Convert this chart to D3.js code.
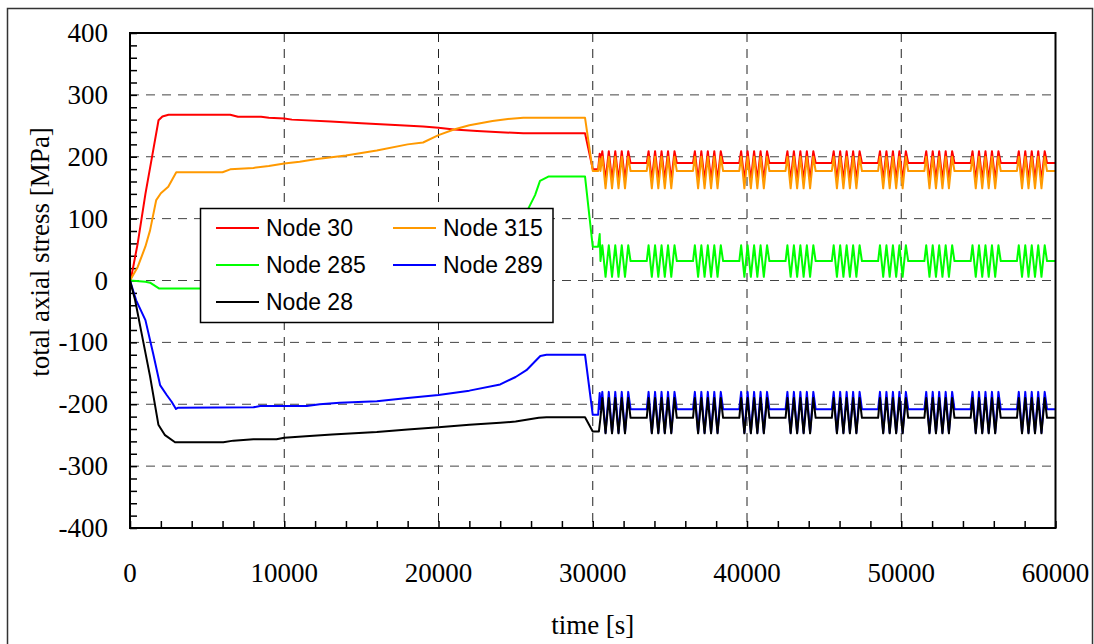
<!DOCTYPE html>
<html>
<head>
<meta charset="utf-8">
<script src="https://cdn.jsdelivr.net/npm/d3@7"></script>
<style>
  body { margin: 0; background: white; }
</style>
</head>
<body>
<div id="chart"></div>
<script>
// time [s] ticks and stress [MPa] ticks
const xTicks = [0, 10000, 20000, 30000, 40000, 50000, 60000];
const yTicks = [-400, -300, -200, -100, 0, 100, 200, 300, 400];

const seriesNames = ["Node 30", "Node 315", "Node 285", "Node 289", "Node 28"];
const seriesColors = ["#ff0000", "#ff9900", "#00ff00", "#0000ff", "#000000"];

// loading phase, [time, stress]
const node30Ramp = [[0, -5], [500, 60], [1000, 140], [1500, 210], [1850, 259], [2100, 265], [2500, 268], [6500, 268], [7000, 264.6], [8500, 264.6], [9000, 263], [10000, 262], [10500, 260], [13000, 257], [15000, 254], [17500, 251], [19000, 249], [20000, 247], [21000, 244], [22500, 241.5], [24000, 239.5], [25500, 238], [29500, 238], [30000, 180], [30350, 180], [30450, 205]];
const node315Ramp = [[0, 0], [500, 22], [1000, 55], [1300, 81], [1700, 130], [2000, 141], [2480, 151.5], [3000, 175], [6000, 175], [6500, 179.6], [8000, 182], [9000, 185], [10000, 189], [11000, 192], [12000, 196], [14000, 202], [16000, 210], [18000, 220], [19000, 223], [20000, 235], [21000, 244], [22000, 251], [23500, 257.7], [24500, 261], [25500, 263], [29500, 263], [30000, 177], [30350, 177], [30450, 197]];
const node285Ramp = [[0, 0], [1000, -2], [1300, -3.5], [1900, -13], [23500, -13], [24500, -5], [25300, 60], [25830, 116.6], [26260, 138], [26580, 161], [27120, 168], [29500, 168], [30000, 54.6], [30350, 54.6], [30450, 75]];
const node289Ramp = [[0, 0], [400, -32], [1000, -64], [1500, -118], [1950, -169], [2380, -185], [2700, -196], [2980, -207.6], [3130, -205.5], [8000, -205], [8440, -203], [11460, -203], [12300, -200], [13600, -197.5], [16000, -195], [18000, -190], [20000, -185], [22000, -178], [24000, -168], [25000, -156], [25700, -145], [26600, -122], [27000, -120], [29500, -120], [30000, -217], [30350, -217], [30450, -182]];
const node28Ramp = [[0, 0], [330, -31.5], [750, -85], [1300, -155], [1840, -233], [2270, -250], [2920, -261.5], [6050, -261.5], [6700, -258.8], [8000, -256.5], [9500, -256.5], [10000, -254], [11400, -251.7], [13100, -249], [16000, -245], [18000, -241], [20000, -237], [22000, -233], [24000, -230], [25000, -228], [26500, -222], [27000, -221], [29500, -221], [30000, -244], [30400, -244]];

// cyclic phase: block start times and the shape of one block
const blockStarts = [30500, 33500, 36500, 39500, 42500, 45500, 48500, 51500, 54500, 57500];
const blockOffsets = [0, 120, 330, 540, 750, 960, 1170, 1380, 1590, 1800, 1950];
const node30Block = [190, 209, 162, 209, 162, 209, 162, 209, 162, 209, 190];
const node315Block = [177, 200, 149, 200, 149, 200, 149, 200, 149, 200, 177];
const node285Block = [31.5, 57, 6, 57, 6, 57, 6, 57, 6, 57, 31.5];
const node289Block = [-208, -180, -246, -180, -246, -180, -246, -180, -246, -180, -208];
const node28Block = [-222, -190, -247, -190, -247, -190, -247, -190, -247, -190, -222];

const ramps = [node30Ramp, node315Ramp, node285Ramp, node289Ramp, node28Ramp];
const blocks = [node30Block, node315Block, node285Block, node289Block, node28Block];

const serif = "'Liberation Serif', 'Times New Roman', serif";
const sans = "'Liberation Sans', Arial, sans-serif";

function renderStressChart () {
    const wSvg = 1094;
    const hSvg = 644;
    const left = 130;
    const right = 1055.5;
    const top = 33;
    const bottom = 528;

    let xScale = d3.scaleLinear([0, 60000], [left, right]);
    let yScale = d3.scaleLinear([-400, 400], [bottom, top]);

    let svg = d3.select("#chart")
        .append("svg")
        .attr("width", wSvg)
        .attr("height", hSvg);

    // outer chart frame
    svg.append("rect")
        .attr("x", 7.5)
        .attr("y", 8.5)
        .attr("width", 1085)
        .attr("height", 645)
        .attr("fill", "white")
        .attr("stroke", "#333")
        .attr("stroke-width", 1.5);

    // dashed grid
    svg.append("g")
        .selectAll("line")
        .data(xTicks.filter(t => t > 0 && t < 60000))
        .enter()
        .append("line")
        .attr("x1", d => xScale(d))
        .attr("x2", d => xScale(d))
        .attr("y1", top)
        .attr("y2", bottom)
        .attr("stroke", "#222")
        .attr("stroke-dasharray", "9,7");

    svg.append("g")
        .selectAll("line")
        .data(yTicks.filter(t => t > -400 && t < 400))
        .enter()
        .append("line")
        .attr("x1", left)
        .attr("x2", right)
        .attr("y1", d => yScale(d))
        .attr("y2", d => yScale(d))
        .attr("stroke", "#444")
        .attr("stroke-dasharray", "9,7");

    // minor ticks pointing inwards
    let xAxis = d3.axisTop(xScale).ticks(30).tickSize(7).tickFormat("");
    svg.append("g")
        .attr("transform", `translate(0, ${bottom})`)
        .call(xAxis)
        .call(g => g.selectAll(".tick line").attr("stroke-width", 1.5));

    let yAxis = d3.axisRight(yScale).ticks(40).tickSize(7).tickFormat("");
    svg.append("g")
        .attr("transform", `translate(${left}, 0)`)
        .call(yAxis)
        .call(g => g.selectAll(".tick line").attr("stroke-width", 1.5));

    svg.selectAll(".domain").remove();

    // tick labels
    svg.append("g")
        .selectAll("text")
        .data(xTicks)
        .enter()
        .append("text")
        .attr("font-family", serif)
        .attr("font-size", 27)
        .attr("x", d => xScale(d))
        .attr("y", 582)
        .attr("text-anchor", "middle")
        .text(d => d);

    svg.append("g")
        .selectAll("text")
        .data(yTicks)
        .enter()
        .append("text")
        .attr("font-family", serif)
        .attr("font-size", 27)
        .attr("x", 108)
        .attr("y", d => yScale(d) + 9)
        .attr("text-anchor", "end")
        .text(d => d);

    svg.append("text")
        .attr("font-family", serif)
        .attr("font-size", 27)
        .attr("x", (left + right) / 2)
        .attr("y", 634)
        .attr("text-anchor", "middle")
        .text("time [s]");

    svg.append("text")
        .attr("font-family", serif)
        .attr("font-size", 27)
        .attr("transform", "translate(49, 252) rotate(-90)")
        .attr("text-anchor", "middle")
        .text("total axial stress [MPa]");

    // curves
    let line = d3.line()
        .x(d => xScale(d[0]))
        .y(d => yScale(d[1]));

    let plot = svg.append("g");
    for (let i = 0; i < seriesNames.length; i++) {
        let points = ramps[i].slice();
        for (let start of blockStarts) {
            for (let j = 0; j < blockOffsets.length; j++) {
                points.push([start + blockOffsets[j], blocks[i][j]]);
            }
        }
        points.push([60000, blocks[i][blocks[i].length - 1]]);

        plot.append("path")
            .datum(points)
            .attr("fill", "none")
            .attr("stroke", seriesColors[i])
            .attr("stroke-width", 2)
            .attr("stroke-linejoin", "round")
            .attr("d", line);
    }

    // plot frame
    svg.append("rect")
        .attr("x", left)
        .attr("y", top)
        .attr("width", right - left)
        .attr("height", bottom - top)
        .attr("fill", "none")
        .attr("stroke", "black")
        .attr("stroke-width", 2);

    // legend
    const legendPos = [[216, 228], [393, 228], [216, 265], [393, 265], [216, 302]];
    let legend = svg.append("g");
    legend.append("rect")
        .attr("x", 200.5)
        .attr("y", 208.5)
        .attr("width", 352.5)
        .attr("height", 114)
        .attr("fill", "white")
        .attr("stroke", "black")
        .attr("stroke-width", 1.5);

    let items = legend.selectAll(".item")
        .data(seriesNames)
        .enter()
        .append("g")
        .attr("transform", (d, i) => `translate(${legendPos[i][0]}, ${legendPos[i][1]})`);

    items.append("line")
        .attr("x1", 0)
        .attr("x2", 43)
        .attr("stroke", (d, i) => seriesColors[i])
        .attr("stroke-width", 2);

    items.append("text")
        .attr("font-family", sans)
        .attr("font-size", 23)
        .attr("x", 50)
        .attr("y", 8)
        .text(d => d);
}

renderStressChart();
</script>
</body>
</html>
